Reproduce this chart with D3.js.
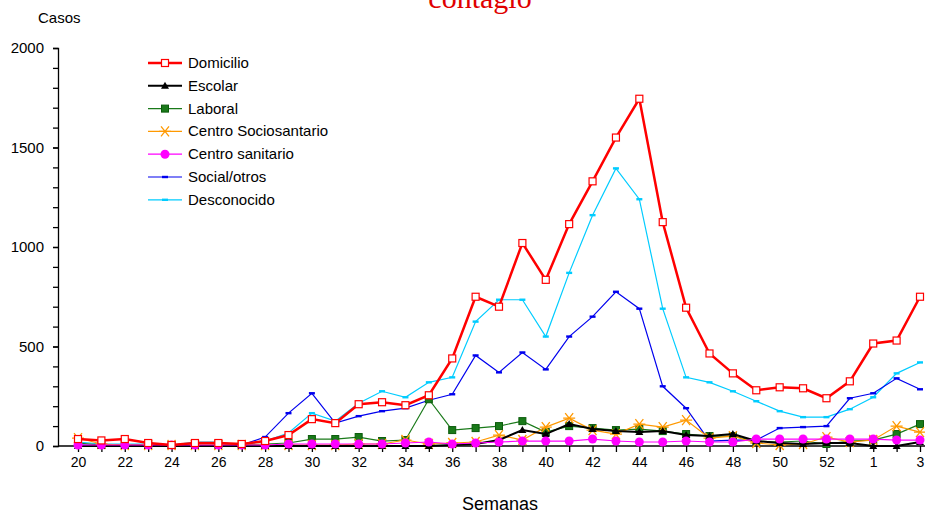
<!DOCTYPE html><html><head><meta charset="utf-8"><script src="https://cdn.jsdelivr.net/npm/d3@7"></script>
<style>body{margin:0;background:#fff}</style></head><body><svg id="c" width="925" height="515"></svg><script>
const weeks=["20","21","22","23","24","25","26","27","28","29","30","31","32","33","34","35","36","37","38","39","40","41","42","43","44","45","46","47","48","49","50","51","52","53","1","2","3"];
const tickLabels=["20","22","24","26","28","30","32","34","36","38","40","42","44","46","48","50","52","1","3"];
const domicilio=[35,28,35,15,5,15,15,10,25,55,135,115,210,220,205,255,440,750,700,1020,835,1115,1330,1550,1745,1125,695,465,365,280,295,290,240,325,515,530,750];
const escolar=[0,0,0,0,0,0,0,0,0,0,0,0,0,0,0,0,5,10,30,80,60,110,85,75,70,75,55,50,60,25,15,10,15,15,0,0,20];
const laboral=[15,5,5,5,5,10,10,5,10,15,35,35,45,25,30,235,80,90,100,125,70,100,90,80,85,75,60,50,50,25,20,25,10,25,30,60,110];
const sociosanitario=[40,10,5,5,5,5,5,5,5,5,5,5,10,10,30,10,15,20,55,30,95,140,80,60,110,95,130,40,50,15,5,10,45,20,30,100,70];
const sanitario=[5,5,5,5,5,5,5,5,5,10,10,10,10,10,15,20,10,15,20,25,25,25,35,25,20,20,25,20,20,35,35,35,35,35,35,30,30];
const social=[5,5,5,5,5,15,15,5,45,165,265,115,150,175,190,230,260,455,370,470,385,550,650,775,690,300,190,25,30,30,90,95,100,240,265,340,285];
const desconocido=[20,10,10,10,5,20,20,5,25,65,165,125,215,275,245,320,345,625,735,735,550,870,1160,1395,1240,690,345,320,275,225,175,145,145,185,245,365,420];
const series=[
 {name:"Domicilio",v:domicilio,c:"#ff0000",w:2.5,m:"sq"},
 {name:"Escolar",v:escolar,c:"#000000",w:2,m:"tri"},
 {name:"Laboral",v:laboral,c:"#1a7a1a",w:1.2,m:"gsq"},
 {name:"Centro Sociosantario",v:sociosanitario,c:"#ff9900",w:1.2,m:"star"},
 {name:"Centro sanitario",v:sanitario,c:"#ff00ff",w:1.2,m:"dot"},
 {name:"Social/otros",v:social,c:"#0000ee",w:1.2,m:"dash"},
 {name:"Desconocido",v:desconocido,c:"#00ccff",w:1.2,m:"dash"}];
const svg=d3.select("#c");
const x=d3.scalePoint().domain(weeks).range([78,920]);
const y=d3.scaleLinear().domain([0,2000]).range([446,48]);
svg.append("text").attr("x",480).attr("y",8).attr("text-anchor","middle").attr("fill","#e00000").attr("font-family","Liberation Serif").attr("font-size",30).text("contagio");
const ya=svg.append("g").attr("transform","translate(58,0)").call(d3.axisLeft(y).tickValues([0,500,1000,1500,2000]).tickSize(5).tickFormat(d3.format("d")));
ya.selectAll("text").attr("font-family","Liberation Sans").attr("font-size",15).attr("fill","#000").attr("dx",-6);
svg.append("g").attr("transform","translate(58,0)").call(d3.axisLeft(y).tickValues(d3.range(100,2000,100)).tickSize(5).tickFormat("")).select(".domain").remove();
const xa=svg.append("g").attr("transform","translate(0,446)").call(d3.axisBottom(x).tickSize(6).tickFormat(d=>tickLabels.includes(d)?d:""));
xa.select(".domain").attr("d","M58,0H925");
xa.selectAll("text").attr("font-family","Liberation Sans").attr("font-size",14).attr("fill","#000").attr("dy",12);
svg.selectAll(".domain,.tick line").attr("stroke","#000").attr("stroke-width",1.3);
svg.append("text").attr("x",38).attr("y",23).attr("font-family","Liberation Sans").attr("font-size",15).text("Casos");
svg.append("text").attr("x",500).attr("y",510).attr("text-anchor","middle").attr("font-family","Liberation Sans").attr("font-size",18).text("Semanas");
function marker(g,s,cx,cy){
 if(s.m=="sq")g.append("rect").attr("x",cx-3.5).attr("y",cy-3.5).attr("width",7).attr("height",7).attr("fill","#fff").attr("stroke",s.c).attr("stroke-width",1.2);
 else if(s.m=="tri")g.append("path").attr("d",`M${cx},${cy-4}L${cx+4},${cy+3}L${cx-4},${cy+3}Z`).attr("fill",s.c);
 else if(s.m=="gsq")g.append("rect").attr("x",cx-3.5).attr("y",cy-3.5).attr("width",7).attr("height",7).attr("fill",s.c).attr("stroke","#0a5a0a");
 else if(s.m=="star")g.append("path").attr("d",`M${cx-6},${cy}H${cx+6}M${cx-4},${cy-5}L${cx+4},${cy+5}M${cx+4},${cy-5}L${cx-4},${cy+5}`).attr("stroke",s.c).attr("stroke-width",1.3);
 else if(s.m=="dot")g.append("circle").attr("cx",cx).attr("cy",cy).attr("r",4.5).attr("fill",s.c);
 else g.append("rect").attr("x",cx-3).attr("y",cy-1.2).attr("width",6).attr("height",2.4).attr("fill",s.c);
}
const line=d3.line().x((d,i)=>x(weeks[i])).y(d=>y(d));
const order=[6,5,2,3,1,4,0];
order.forEach(k=>{const s=series[k];const g=svg.append("g");
 g.append("path").attr("d",line(s.v)).attr("fill","none").attr("stroke",s.c).attr("stroke-width",s.w);
 s.v.forEach((v,i)=>marker(g,s,x(weeks[i]),y(v)));});
series.forEach((s,i)=>{const yy=63+i*22.8;const g=svg.append("g");
 g.append("line").attr("x1",148).attr("x2",182).attr("y1",yy).attr("y2",yy).attr("stroke",s.c).attr("stroke-width",s.w);
 marker(g,s,165,yy);
 g.append("text").attr("x",188).attr("y",yy+5).attr("font-family","Liberation Sans").attr("font-size",15).text(s.name);});
</script></body></html>
